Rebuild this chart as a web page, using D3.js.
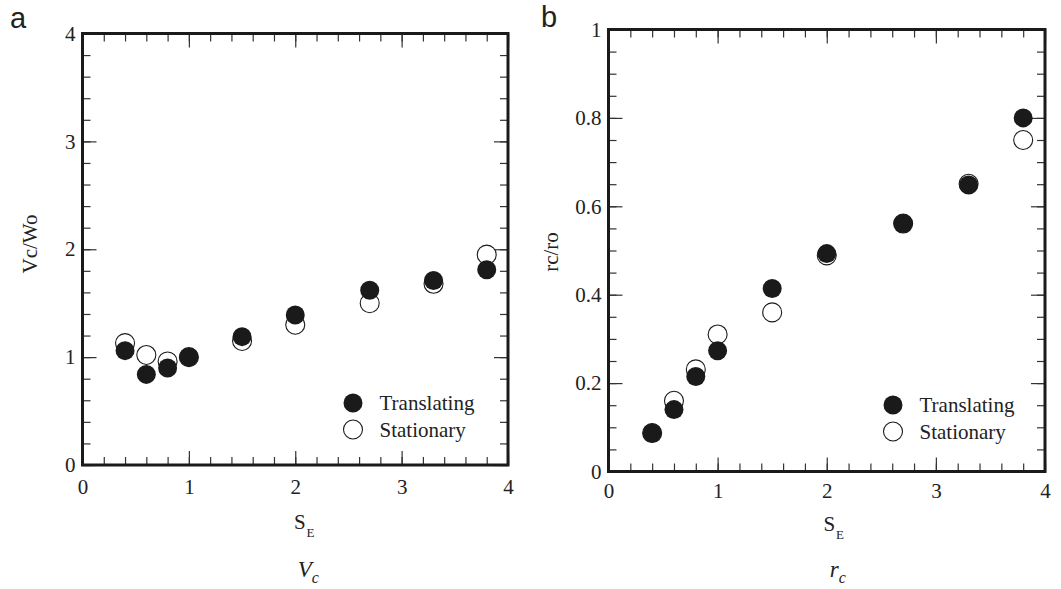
<!DOCTYPE html>
<html>
<head>
<meta charset="utf-8">
<script src="https://cdn.jsdelivr.net/npm/d3@7"></script>
<style>
  html, body { margin: 0; padding: 0; background: #fff; }
  svg { display: block; }
</style>
</head>
<body>
<svg id="chart" width="1061" height="589"></svg>
<script>
// Swirl-ratio values and the two measured series
const seValues = [0.4, 0.6, 0.8, 1.0, 1.5, 2.0, 2.7, 3.3, 3.8];
const vcTranslating = [1.06, 0.84, 0.90, 1.00, 1.19, 1.39, 1.62, 1.71, 1.81];
const vcStationary  = [1.13, 1.02, 0.96, 1.00, 1.15, 1.30, 1.50, 1.68, 1.95];
const rcTranslating = [0.087, 0.140, 0.215, 0.273, 0.414, 0.493, 0.561, 0.648, 0.800];
const rcStationary  = [0.087, 0.160, 0.231, 0.310, 0.360, 0.489, 0.561, 0.651, 0.750];

// Tick labels
const xMajorTicks = [0, 1, 2, 3, 4];
const vcMajorTicks = [0, 1, 2, 3, 4];
const rcMajorTicks = [0, 0.2, 0.4, 0.6, 0.8, 1];
const seriesNames = ["Translating", "Stationary"];

const svg = d3.select("#chart");
const serif = "Liberation Serif, Times New Roman, serif";
const ink = "#1a1a1a";
const textInk = "#222";

function steps(lo, hi, step) {
  const out = [];
  const n = Math.round((hi - lo) / step);
  for (let i = 0; i <= n; i++) out.push(+(lo + i * step).toFixed(4));
  return out;
}

function panel(opt) {
  const g = svg.append("g");
  const x = d3.scaleLinear().domain([0, 4]).range([opt.left, opt.right]);
  const y = d3.scaleLinear().domain(opt.yDomain).range([opt.bottom, opt.top]);
  const xMinor = steps(0, 4, 0.2);
  const yMinor = steps(opt.yDomain[0], opt.yDomain[1], opt.yMinorStep);
  const majorLen = 14, minorLen = 8;

  const addAxis = (axis, tx, ty) => {
    const a = g.append("g").attr("transform", `translate(${tx},${ty})`).call(axis);
    a.attr("font-family", serif).attr("font-size", 21);
    a.select(".domain").remove();
    a.selectAll(".tick line").attr("stroke", "#333").attr("stroke-width", 1.2);
    a.selectAll(".tick text").attr("fill", textInk);
    return a;
  };

  // bottom
  addAxis(d3.axisBottom(x).tickValues(xMinor).tickSize(-minorLen).tickFormat(""), 0, opt.bottom);
  addAxis(d3.axisBottom(x).tickValues(xMajorTicks).tickSize(-majorLen).tickPadding(opt.xPad)
    .tickFormat(d3.format("d")), 0, opt.bottom);
  // top
  addAxis(d3.axisTop(x).tickValues(xMinor).tickSize(-minorLen).tickFormat(""), 0, opt.top);
  addAxis(d3.axisTop(x).tickValues(xMajorTicks).tickSize(-majorLen).tickFormat(""), 0, opt.top);
  // left
  addAxis(d3.axisLeft(y).tickValues(yMinor).tickSize(-minorLen).tickFormat(""), opt.left, 0);
  addAxis(d3.axisLeft(y).tickValues(opt.yMajor).tickSize(-majorLen).tickPadding(7)
    .tickFormat(opt.yFormat), opt.left, 0);
  // right
  addAxis(d3.axisRight(y).tickValues(yMinor).tickSize(-minorLen).tickFormat(""), opt.right, 0);
  addAxis(d3.axisRight(y).tickValues(opt.yMajor).tickSize(-majorLen).tickFormat(""), opt.right, 0);

  // frame
  g.append("rect")
    .attr("x", opt.left).attr("y", opt.top)
    .attr("width", opt.right - opt.left).attr("height", opt.bottom - opt.top)
    .attr("fill", "none").attr("stroke", ink).attr("stroke-width", 3);

  const r = 9.5;
  // open markers underneath, filled markers on top
  g.append("g").selectAll("circle").data(seValues.map((s, i) => [s, opt.stationary[i]]))
    .join("circle")
    .attr("cx", d => x(d[0])).attr("cy", d => y(d[1])).attr("r", r)
    .attr("fill", "#fff").attr("stroke", ink).attr("stroke-width", 1.1);
  g.append("g").selectAll("circle").data(seValues.map((s, i) => [s, opt.translating[i]]))
    .join("circle")
    .attr("cx", d => x(d[0])).attr("cy", d => y(d[1])).attr("r", r)
    .attr("fill", ink);

  // legend
  const lg = g.append("g").attr("transform", `translate(${opt.legend[0]},${opt.legend[1]})`);
  seriesNames.forEach((name, i) => {
    const row = lg.append("g").attr("transform", `translate(0,${i * 26.5})`);
    row.append("circle").attr("r", r)
      .attr("fill", i === 0 ? ink : "#fff")
      .attr("stroke", ink).attr("stroke-width", i === 0 ? 0 : 1.1);
    row.append("text").attr("x", 26.5).attr("y", 7)
      .attr("font-family", serif).attr("font-size", 21).attr("fill", textInk)
      .text(name);
  });

  // y axis title
  g.append("text")
    .attr("transform", `translate(${opt.yTitlePos[0]},${opt.yTitlePos[1]}) rotate(-90)`)
    .attr("text-anchor", "middle")
    .attr("font-family", serif).attr("font-size", 21).attr("fill", textInk)
    .text(opt.yTitle);

  // x axis title: S with subscript E
  const cx = (opt.left + opt.right) / 2;
  const xt = g.append("text")
    .attr("x", cx + opt.titleShift).attr("y", opt.xTitleY)
    .attr("text-anchor", "middle")
    .attr("font-family", serif).attr("font-size", 21).attr("fill", textInk);
  xt.append("tspan").text("S");
  xt.append("tspan").attr("font-size", 13).attr("dy", 8).attr("dx", 1).text("E");

  // caption: italic symbol with italic subscript
  const cap = g.append("text")
    .attr("x", cx + opt.titleShift + 4).attr("y", 577)
    .attr("text-anchor", "middle")
    .attr("font-family", serif).attr("font-style", "italic")
    .attr("font-size", 23).attr("fill", textInk);
  cap.append("tspan").text(opt.caption);
  cap.append("tspan").attr("font-size", 16).attr("dy", 6).text("c");

  // panel letter
  g.append("text")
    .attr("x", opt.letterPos[0]).attr("y", opt.letterPos[1])
    .attr("font-family", "Liberation Sans, Arial, sans-serif")
    .attr("font-size", 29).attr("fill", textInk)
    .text(opt.letter);
}

panel({
  left: 82.5, right: 508, top: 33.5, bottom: 465,
  yDomain: [0, 4], yMinorStep: 0.2, yMajor: vcMajorTicks,
  yFormat: d3.format("d"), xPad: 14, xTitleY: 529, titleShift: 9,
  translating: vcTranslating, stationary: vcStationary,
  legend: [353, 403],
  yTitle: "Vc/Wo", yTitlePos: [37, 244],
  caption: "V", letter: "a", letterPos: [10, 28]
});

panel({
  left: 608.5, right: 1045, top: 29.5, bottom: 471.5,
  yDomain: [0, 1], yMinorStep: 0.05, yMajor: rcMajorTicks,
  yFormat: d => d === 0 || d === 1 ? d3.format("d")(d) : d3.format(".1f")(d),
  xPad: 12, xTitleY: 531, titleShift: 7,
  translating: rcTranslating, stationary: rcStationary,
  legend: [893, 405],
  yTitle: "rc/ro", yTitlePos: [558, 252],
  caption: "r", letter: "b", letterPos: [541, 27]
});
</script>
</body>
</html>
